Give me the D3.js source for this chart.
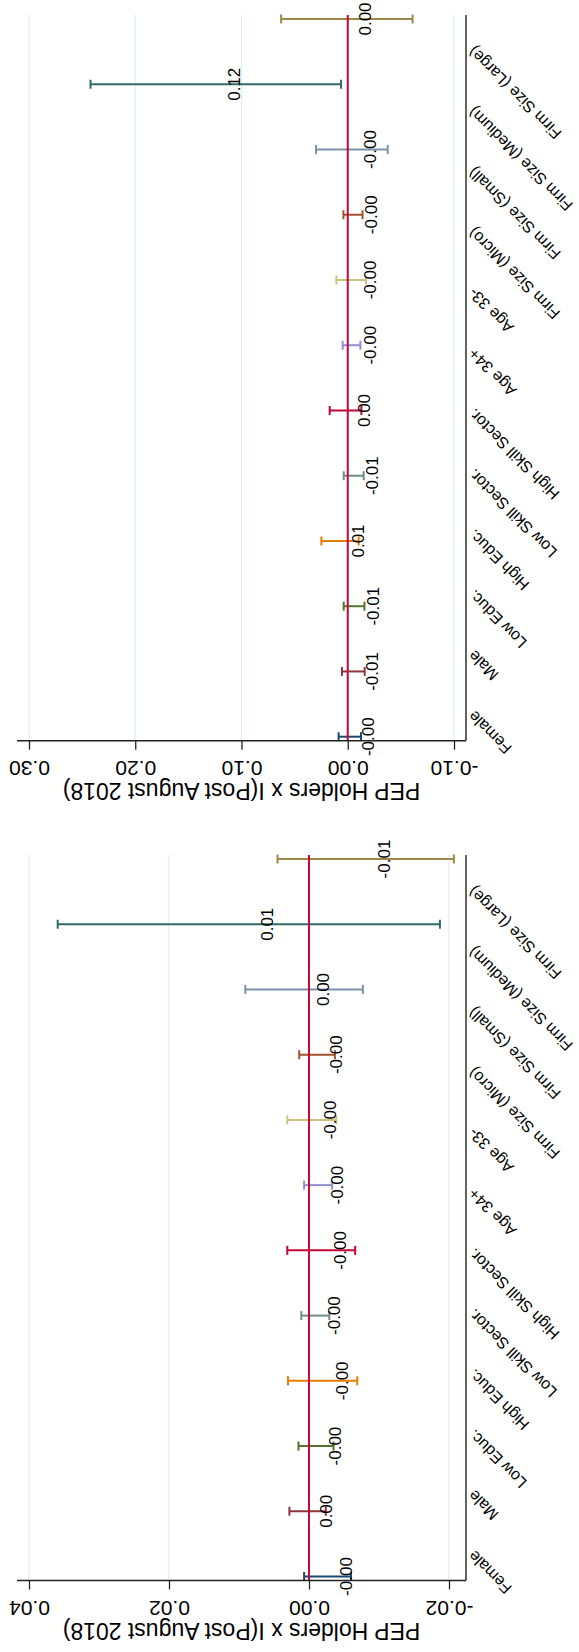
<!DOCTYPE html>
<html>
<head>
<meta charset="utf-8">
<script src="https://cdn.jsdelivr.net/npm/d3@7"></script>
<style>
  html, body { margin: 0; padding: 0; background: #ffffff; }
  svg { display: block; }
  text { font-family: "Liberation Sans", Arial, Helvetica, sans-serif; fill: #000; }
</style>
</head>
<body>
<svg id="chart" width="579" height="1652"></svg>
<script>
// ---------- data ----------
const categories = ["Female", "Male", "Low Educ.", "High Educ.", "Low Skill Sector.", "High Skill Sector.",
  "Age 34+", "Age 33-", "Firm Size (Micro)", "Firm Size (Small)", "Firm Size (Medium)", "Firm Size (Large)"];

const colors = ["#1a476f", "#90353b", "#55752f", "#e37e00", "#6e8e84", "#c10534",
  "#938dd2", "#cac27e", "#a0522d", "#7b92a8", "#2d6d66", "#9c8847"];

// Panel A (lower panel in the picture)
const coefA = [-0.0027, 0.0002, -0.0010, -0.0020, -0.0009, -0.0018, -0.0013, -0.0004, -0.0012, 0.0007, 0.0086, -0.0081];
const loA   = [-0.0060, -0.0024, -0.0035, -0.0069, -0.0029, -0.0066, -0.0033, -0.0039, -0.0037, -0.0077, -0.0187, -0.0207];
const hiA   = [0.0007, 0.0028, 0.0015, 0.0030, 0.0011, 0.0031, 0.0007, 0.0031, 0.0014, 0.0091, 0.0359, 0.0045];
const ticksA = [-0.02, 0.00, 0.02, 0.04];

// Panel B (upper panel in the picture)
const coefB = [-0.0020, -0.0053, -0.0060, 0.0073, -0.0056, 0.0021, -0.0035, -0.0033, -0.0049, -0.0039, 0.1242, 0.0009];
const loB   = [-0.0125, -0.0159, -0.0157, -0.0103, -0.0150, -0.0128, -0.0119, -0.0172, -0.0139, -0.0376, 0.0063, -0.0610];
const hiB   = [0.0086, 0.0054, 0.0038, 0.0248, 0.0038, 0.0170, 0.0048, 0.0107, 0.0041, 0.0299, 0.2421, 0.0627];
const ticksB = [-0.10, 0.00, 0.10, 0.20, 0.30];

const yTitle = "PEP Holders x I(Post August 2018)";

// ---------- layout (drawn in the unrotated frame, then turned 90° counter-clockwise) ----------
const W = 1652, H = 579;
const fmt = v => (v < 0 ? "-" : "") + Math.abs(v).toFixed(2);

const svg = d3.select("#chart");
const root = svg.append("g").attr("transform", `translate(0,${W}) rotate(-90)`);

const plotTop = 17, plotBottom = 466;

const panels = [
  { coef: coefA, lo: loA, hi: hiA, ticks: ticksA, domain: [-0.02, 0.04], range: [449, 29], x0: 71.5, x1: 797 },
  { coef: coefB, lo: loB, hi: hiB, ticks: ticksB, domain: [-0.10, 0.30], range: [454, 29], x0: 911.3, x1: 1637 }
];

panels.forEach(p => {
  const g = root.append("g");
  const y = d3.scaleLinear().domain(p.domain).range(p.range);
  const xBar = d3.scalePoint().domain(categories).range([p.x0 + 4, p.x1 - 4]);
  const xLab = d3.scalePoint().domain(categories).range([p.x0 + 30.6, p.x1 - 30.6]);

  // grid lines
  g.append("g").selectAll("line").data(p.ticks).join("line")
    .attr("x1", p.x0).attr("x2", p.x1)
    .attr("y1", d => y(d)).attr("y2", d => y(d))
    .attr("stroke", "#e1ecec").attr("stroke-width", 1.2);

  // error bars
  const bars = g.append("g").selectAll("g").data(categories).join("g");
  bars.append("line")
    .attr("x1", d => xBar(d)).attr("x2", d => xBar(d))
    .attr("y1", (d, i) => y(p.lo[i])).attr("y2", (d, i) => y(p.hi[i]))
    .attr("stroke", (d, i) => colors[i]).attr("stroke-width", 2);
  bars.append("line")
    .attr("x1", d => xBar(d) - 4.5).attr("x2", d => xBar(d) + 4.5)
    .attr("y1", (d, i) => y(p.lo[i])).attr("y2", (d, i) => y(p.lo[i]))
    .attr("stroke", (d, i) => colors[i]).attr("stroke-width", 2);
  bars.append("line")
    .attr("x1", d => xBar(d) - 4.5).attr("x2", d => xBar(d) + 4.5)
    .attr("y1", (d, i) => y(p.hi[i])).attr("y2", (d, i) => y(p.hi[i]))
    .attr("stroke", (d, i) => colors[i]).attr("stroke-width", 2);

  // zero reference line
  g.append("line")
    .attr("x1", p.x0).attr("x2", p.x1)
    .attr("y1", y(0)).attr("y2", y(0))
    .attr("stroke", "#c8063a").attr("stroke-width", 2);

  // coefficient labels
  g.append("g").selectAll("text").data(categories).join("text")
    .attr("x", d => xBar(d))
    .attr("y", (d, i) => y(p.coef[i]) + 24.5)
    .attr("text-anchor", "middle")
    .style("font-size", "17px")
    .text((d, i) => fmt(p.coef[i]));

  // value axis
  const ya = g.append("g").attr("transform", `translate(${p.x0},0)`)
    .call(d3.axisLeft(y).tickValues(p.ticks).tickSize(9).tickFormat(fmt));
  ya.select(".domain").remove();
  ya.selectAll(".tick line").attr("stroke", "#222").attr("stroke-width", 1.3);
  ya.selectAll(".tick text")
    .attr("x", null).attr("dy", null)
    .attr("transform", "translate(-20.5,0) rotate(-90)")
    .attr("text-anchor", "middle")
    .style("font-size", "21px").style("font-family", "'Liberation Sans', Arial, sans-serif").attr("fill", "#000");
  g.append("line")
    .attr("x1", p.x0).attr("x2", p.x0)
    .attr("y1", plotTop).attr("y2", plotBottom)
    .attr("stroke", "#222").attr("stroke-width", 1.4);

  // category axis
  const xa = g.append("g").attr("transform", `translate(0,${plotBottom})`)
    .call(d3.axisBottom(xLab).tickSize(0));
  xa.select(".domain").remove();
  xa.selectAll(".tick text")
    .attr("y", null).attr("dy", null)
    .attr("transform", "translate(0,9) rotate(-45)")
    .attr("text-anchor", "end")
    .style("font-size", "16px").style("font-family", "'Liberation Sans', Arial, sans-serif").attr("fill", "#000");
  g.append("line")
    .attr("x1", p.x0).attr("x2", p.x1)
    .attr("y1", plotBottom).attr("y2", plotBottom)
    .attr("stroke", "#222").attr("stroke-width", 1.4);

  // axis title
  g.append("text")
    .attr("transform", `translate(${p.x0 - 42.6},${(plotTop + plotBottom) / 2}) rotate(-90)`)
    .attr("text-anchor", "middle")
    .style("font-size", "23px")
    .text(yTitle);
});
</script>
</body>
</html>
